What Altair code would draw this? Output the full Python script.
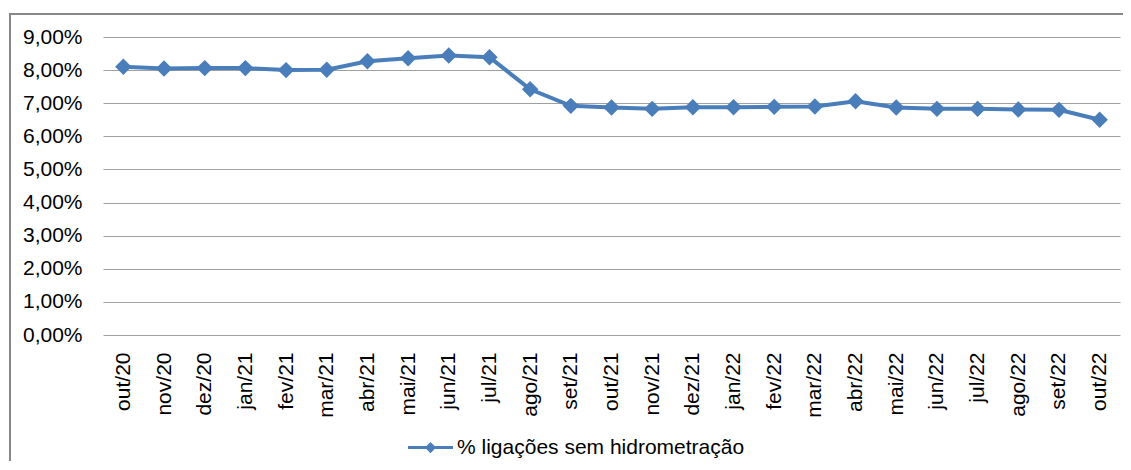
import altair as alt
import pandas as pd

meses = ["out/20", "nov/20", "dez/20", "jan/21", "fev/21", "mar/21", "abr/21", "mai/21",
         "jun/21", "jul/21", "ago/21", "set/21", "out/21", "nov/21", "dez/21", "jan/22",
         "fev/22", "mar/22", "abr/22", "mai/22", "jun/22", "jul/22", "ago/22", "set/22", "out/22"]
valores = [8.10, 8.05, 8.06, 8.06, 8.00, 8.01, 8.27, 8.36, 8.44, 8.39, 7.42, 6.92, 6.87,
           6.83, 6.88, 6.88, 6.89, 6.90, 7.06, 6.87, 6.83, 6.83, 6.81, 6.80, 6.50]
serie = "% ligações sem hidrometração"
y_ticks = [0, 1, 2, 3, 4, 5, 6, 7, 8, 9]

df = pd.DataFrame({"mes": meses, "valor": valores, "serie": [serie] * len(meses)})

FONT = "Liberation Sans"
BLUE = "#4a7ebb"

x_enc = alt.X("mes:N", sort=meses, title=None,
              scale=alt.Scale(type="point", padding=0.5),
              axis=alt.Axis(labelAngle=270, labelFont=FONT, labelFontSize=21,
                            labelColor="#000000", ticks=False, tickSize=0, domain=False,
                            grid=False, labelPadding=17))
y_enc = alt.Y("valor:Q", title=None,
              scale=alt.Scale(domain=[0, 9], nice=False, zero=True),
              axis=alt.Axis(values=y_ticks, labelFont=FONT, labelFontSize=21,
                            labelColor="#000000", ticks=False, tickSize=0, domain=False,
                            grid=True, gridColor="#a0a0a0", gridWidth=1, labelPadding=21,
                            labelExpr="replace(format(datum.value, '.2f'), '.', ',') + '%'"))

color_scale = alt.Scale(domain=[serie], range=[BLUE])

base = alt.Chart(df)
line = base.mark_line(strokeWidth=4, color=BLUE).encode(x=x_enc, y=y_enc)
points = base.mark_point(shape="diamond", size=270, filled=True, opacity=1).encode(
    x=x_enc, y=y_enc,
    color=alt.Color("serie:N", scale=color_scale,
                    legend=alt.Legend(title=None, orient="none", legendX=305, legendY=388,
                                      symbolType="M-1,-0.07H1V0.07H-1Z M0,-0.25L0.25,0L0,0.25L-0.25,0Z",
                                      symbolSize=2025, symbolStrokeWidth=0,
                                      symbolFillColor=BLUE, symbolOpacity=1,
                                      labelFont=FONT, labelFontSize=21, labelColor="#000000",
                                      labelOffset=4, labelLimit=0, padding=0)))

frame = alt.Chart(pd.DataFrame({"k": [0]})).mark_rect(filled=False, stroke="#888888",
                                                      strokeWidth=2).encode(
    x=alt.value(-93), x2=alt.value(1060), y=alt.value(-23), y2=alt.value(500))

chart = alt.layer(frame, line, points).properties(
    width=1017, height=298,
    autosize=alt.AutoSizeParams(type="none"),
    padding={"left": 95, "top": 29, "right": 3, "bottom": 126},
    background="#ffffff",
).configure_view(stroke=None)

chart.save("out.html", embed_options={"renderer": "svg", "actions": False})
